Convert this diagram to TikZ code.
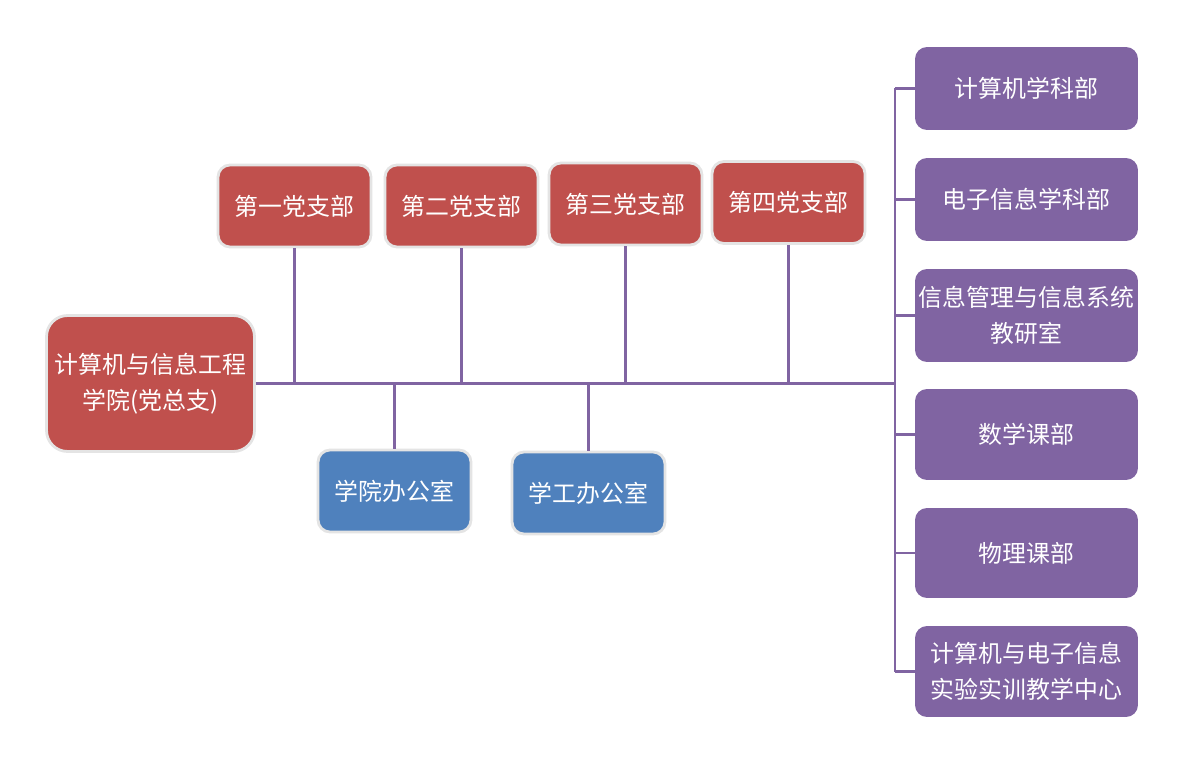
\documentclass[tikz,border=0pt]{standalone}
\usepackage{fontspec}
\setmainfont{Noto Sans CJK SC}
\usetikzlibrary{positioning}
\definecolor{partyred}{HTML}{C0504D}
\definecolor{officeblue}{HTML}{4F81BD}
\definecolor{deptpurple}{HTML}{8064A2}
\definecolor{rimgray}{HTML}{E4E4E4}
\tikzset{
  box/.style={rounded corners=0.24cm,text=white,align=center,inner sep=1pt,
    font=\fontsize{13.6}{20.5}\selectfont},
  branch/.style={box,fill=partyred,draw=rimgray,line width=1.6pt,
    minimum width=3.06cm,minimum height=1.64cm},
  office/.style={box,fill=officeblue,draw=rimgray,line width=1.6pt,
    minimum width=3.06cm,minimum height=1.64cm},
  dept/.style={box,fill=deptpurple,minimum width=4.46cm},
  link/.style={deptpurple,line width=1.7pt}
}
\begin{document}
\begin{tikzpicture}[x=0.02cm,y=-0.02cm]
                \useasboundingbox (0,0) rectangle (1188,767);
                % college
                \node[box,fill=partyred,draw=rimgray,line width=1.6pt,rounded corners=0.42cm,minimum width=4.16cm,minimum height=2.72cm] (college) at (150.5,383.5) {计算机与信息工程\\学院(党总支)};
                % party branches
                \node[branch] (br1) at (294.5,206) {第一党支部};
                \node[branch] (br2) at (461.5,206) {第二党支部};
                \node[branch] (br3) at (625.5,204) {第三党支部};
                \node[branch] (br4) at (788.5,202.5) {第四党支部};
                % offices
                \node[office] (off1) at (394.5,491) {学院办公室};
                \node[office] (off2) at (588.5,493) {学工办公室};
                % departments
                \node[dept,minimum height=1.66cm] (dep1) at (1026.5,88.5) {计算机学科部};
                \node[dept,minimum height=1.66cm] (dep2) at (1026.5,199.5) {电子信息学科部};
                \node[dept,minimum height=1.86cm] (dep3) at (1026.5,315.5) {信息管理与信息系统\\教研室};
                \node[dept,minimum height=1.82cm] (dep4) at (1026.5,434.5) {数学课部};
                \node[dept,minimum height=1.80cm] (dep5) at (1026.5,553) {物理课部};
                \node[dept,minimum height=1.82cm] (dep6) at (1026.5,671.5) {计算机与电子信息\\实验实训教学中心};
                % connectors
                \coordinate (spine) at (895,383.5);
                \draw[link] (college.east) -- (spine);
                \draw[link] (dep1.west -| spine) -- (dep6.west -| spine);
                \foreach \d in {dep1,dep2,dep3,dep4,dep5,dep6}
                  \draw[link] (\d.west) -- (\d.west -| spine);
                \foreach \b in {br1,br2,br3,br4}
                  \draw[link] (\b.south) -- (\b.south |- spine);
                \foreach \o in {off1,off2}
                  \draw[link] (\o.north) -- (\o.north |- spine);
              \end{tikzpicture}
\end{document}
